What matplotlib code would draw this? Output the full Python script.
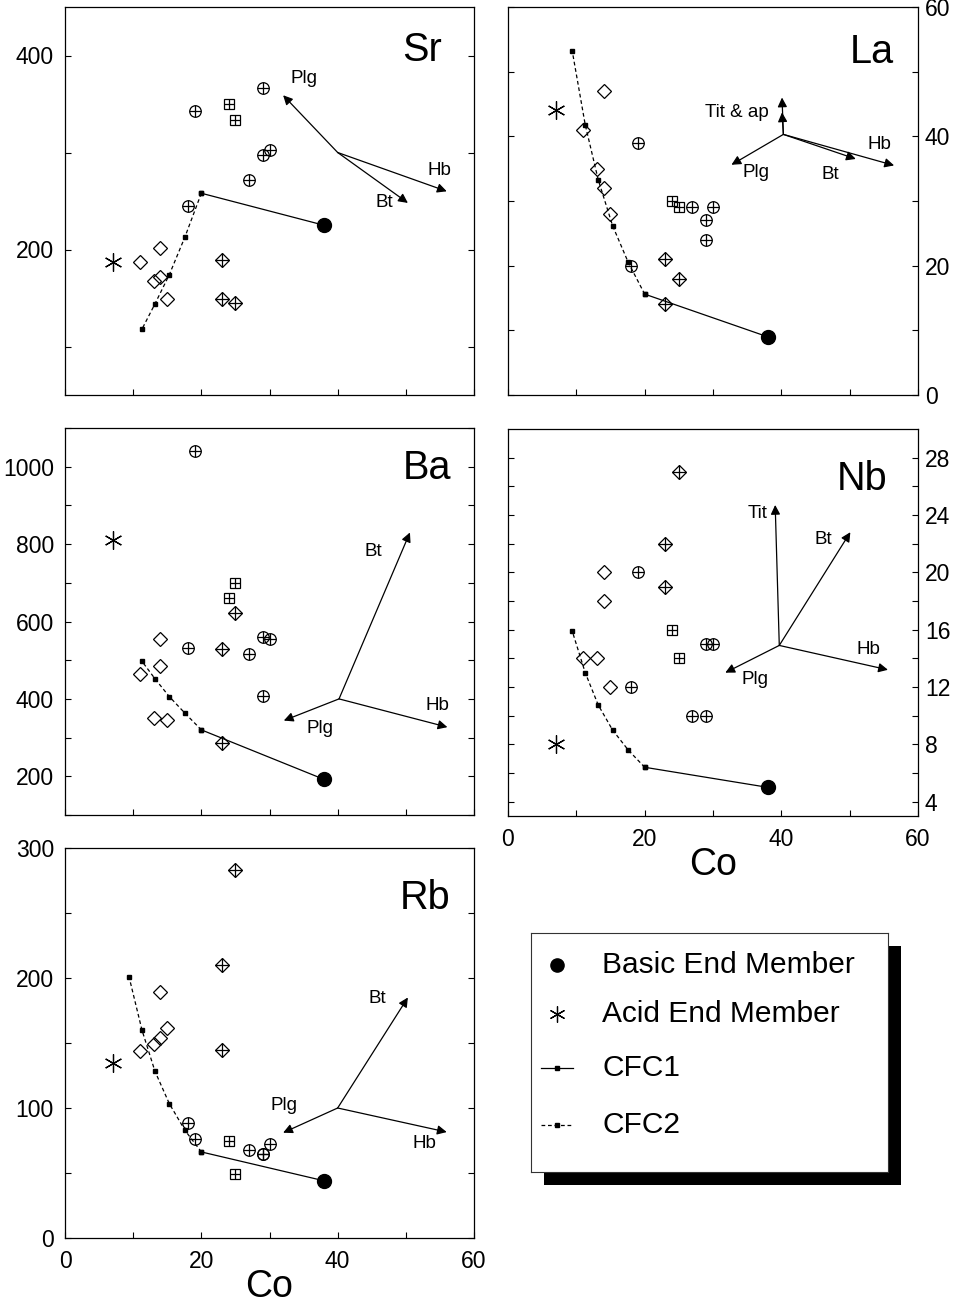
import numpy as np
import matplotlib
matplotlib.use("Agg")
import matplotlib.pyplot as plt
from matplotlib.patches import Rectangle

plt.rcParams['font.family'] = ['Liberation Sans', 'DejaVu Sans']

# Co (x) values of the sample groups
co_diamond = [11, 13, 14, 14, 15]
co_cplus = [18, 19, 27, 29, 29, 30]
co_splus = [24, 25]
co_dplus = [23, 23, 25]
co_basic = 38
co_acid = 7
co_cfc1 = [20, 38]
co_cfc2 = [20, 17.6, 15.3, 13.2, 11.3, 9.4]

# Sr
sr_diamond = [187, 168, 202, 172, 149]
sr_cplus = [245, 343, 272, 367, 297, 303]
sr_splus = [350, 333]
sr_dplus = [189, 149, 145]
sr_basic = 225
sr_acid = 187
sr_cfc1 = [258, 225]
sr_cfc2 = [258, 213, 174, 144, 118]

# La
la_diamond = [41, 35, 47, 32, 28]
la_cplus = [20, 39, 29, 27, 24, 29]
la_splus = [30, 29]
la_dplus = [21, 14, 18]
la_basic = 9
la_acid = 44
la_cfc1 = [15.6, 9]
la_cfc2 = [15.6, 20.5, 26.2, 33.3, 41.8, 53.2]

# Ba
ba_diamond = [465, 351, 555, 484, 346]
ba_cplus = [531, 1040, 516, 559, 407, 556]
ba_splus = [662, 699]
ba_dplus = [529, 286, 623]
ba_basic = 192
ba_acid = 811
ba_cfc1 = [320, 192]
ba_cfc2 = [320, 363, 406, 452, 497]

# Nb
nb_diamond = [14, 14, 20, 18, 12]
nb_cplus = [12, 20, 10, 15, 10, 15]
nb_splus = [16, 14]
nb_dplus = [22, 19, 27]
nb_basic = 5
nb_acid = 8
nb_cfc1 = [6.4, 5]
nb_cfc2 = [6.4, 7.6, 9.0, 10.75, 13.0, 15.9]

# Rb
rb_diamond = [143.6, 149.5, 189, 154, 161.5]
rb_cplus = [88.5, 76.5, 67.5, 65, 64.5, 72.6]
rb_splus = [74.4, 49]
rb_dplus = [210, 145, 283]
rb_basic = 44
rb_acid = 135
rb_cfc1 = [66.2, 44]
rb_cfc2 = [66.2, 82.8, 103.4, 128.2, 159.8, 200.8]

# mineral vectors: origin, then (label, tip, label position)
sr_vec = ((40, 300), [("Plg", (32, 359), (35, 376)), ("Hb", (56, 260), (55, 281)),
                      ("Bt", (50.3, 248), (46.8, 248))])
la_vec = ((40.3, 40.3), [("Plg", (32.7, 35.6), (36.3, 34.4)), ("Bt", (50.9, 36.5), (47.1, 34.1)),
                         ("Hb", (56.5, 35.5), (54.4, 38.8)), ("", (40.1, 43.7), None),
                         ("Tit & ap", (40.1, 46.0), (33.5, 43.7))])
ba_vec = ((40.2, 400), [("Bt", (50.6, 830), (45.3, 782)), ("Plg", (32.1, 344), (37.4, 323)),
                        ("Hb", (56.1, 327), (54.7, 383))])
nb_vec = ((39.7, 14.9), [("Tit", (39.1, 24.7), (36.5, 24.1)), ("Bt", (50.1, 22.8), (46.2, 22.3)),
                         ("Hb", (55.6, 13.2), (52.8, 14.6)), ("Plg", (31.8, 13.0), (36.2, 12.5))])
rb_vec = ((40, 100), [("Bt", (50.3, 185), (45.8, 184)), ("Plg", (32, 81), (32.2, 102)),
                      ("Hb", (56, 81.5), (52.8, 72.6))])

W, H = 957, 1302
fig = plt.figure(figsize=(W / 100, H / 100), dpi=100)


def rect(x0, x1, top, bot):
    return [x0 / W, 1 - bot / H, (x1 - x0) / W, (bot - top) / H]


panels = [
    ("Sr", rect(65, 474, 7, 395), (50, 450), np.arange(100, 401, 100), 200, "left", False,
     sr_diamond, sr_cplus, sr_splus, sr_dplus, sr_basic, sr_acid, sr_cfc1, sr_cfc2, sr_vec, (0.872, 0.889)),
    ("La", rect(508, 918, 7, 395), (0, 60), np.arange(0, 61, 10), 20, "right", False,
     la_diamond, la_cplus, la_splus, la_dplus, la_basic, la_acid, la_cfc1, la_cfc2, la_vec, (0.887, 0.885)),
    ("Ba", rect(65, 474, 428, 815), (100, 1100), np.arange(100, 1101, 100), 200, "left", False,
     ba_diamond, ba_cplus, ba_splus, ba_dplus, ba_basic, ba_acid, ba_cfc1, ba_cfc2, ba_vec, (0.884, 0.896)),
    ("Nb", rect(508, 918, 429, 816), (3, 30), np.arange(4, 29, 2), 4, "right", True,
     nb_diamond, nb_cplus, nb_splus, nb_dplus, nb_basic, nb_acid, nb_cfc1, nb_cfc2, nb_vec, (0.863, 0.870)),
    ("Rb", rect(65, 474, 848, 1238), (0, 300), np.arange(0, 301, 50), 100, "left", True,
     rb_diamond, rb_cplus, rb_splus, rb_dplus, rb_basic, rb_acid, rb_cfc1, rb_cfc2, rb_vec, (0.880, 0.871)),
]

mk = dict(linestyle="none", color="black", markerfacecolor="none", markeredgewidth=0.9)

for (name, pos, ylim, yt, ystep, side, xlab, dia, cpl, spl, dpl, basic, acid,
     cfc1, cfc2, vec, lpos) in panels:
    ax = fig.add_axes(pos)
    ax.set_xlim(0, 60)
    ax.set_ylim(*ylim)

    # mixing curves
    ax.plot(co_cfc2[:len(cfc2)], cfc2, color="black", lw=0.9, ls=(0, (3, 2.2)),
            marker="s", ms=2.8, zorder=2)
    ax.plot(co_cfc1, cfc1, color="black", lw=0.9, marker="s", ms=2.8, zorder=2)

    # samples
    ax.plot(co_diamond, dia, marker="D", ms=6.8, zorder=3, **mk)
    ax.plot(co_cplus, cpl, marker="o", ms=8.3, zorder=3, **mk)
    ax.plot(co_cplus, cpl, marker="+", ms=8.3, zorder=3, **mk)
    ax.plot(co_splus, spl, marker="s", ms=7.2, zorder=3, **mk)
    ax.plot(co_splus, spl, marker="+", ms=7.2, zorder=3, **mk)
    ax.plot(co_dplus, dpl, marker="D", ms=6.8, zorder=3, **mk)
    ax.plot(co_dplus, dpl, marker="+", ms=9.6, zorder=3, **mk)

    # end members
    ax.plot(co_basic, basic, marker="o", ms=10, color="black", ls="none", zorder=4)
    ax.plot(co_acid, acid, marker=(6, 2, 0), ms=13, color="black", mew=0.9, ls="none", zorder=4)

    # mineral vectors
    origin, arrows = vec
    for lab, tip, lp in arrows:
        ax.annotate("", xy=tip, xytext=origin,
                    arrowprops=dict(arrowstyle="-|>", color="black", lw=0.9,
                                    mutation_scale=14, shrinkA=0, shrinkB=0))
        if lp is not None:
            ax.text(lp[0], lp[1], lab, fontsize=13.5, ha="center", va="center")

    ax.text(lpos[0], lpos[1], name, transform=ax.transAxes, fontsize=28.5,
            ha="center", va="center")

    # ticks
    ax.set_xticks(np.arange(0, 61, 10))
    if xlab:
        ax.set_xticklabels([str(v) if v % 20 == 0 else "" for v in range(0, 61, 10)])
        ax.set_xlabel("Co", fontsize=27, labelpad=-3)
    else:
        ax.set_xticklabels([])
    ax.set_yticks(yt)
    ax.set_yticklabels([str(int(v)) if v % ystep == 0 else "" for v in yt])
    ax.tick_params(direction="in", length=4, width=0.8, labelsize=16.5,
                   left=True, right=True, top=False, bottom=True,
                   labelleft=(side == "left"), labelright=(side == "right"))
    ax.tick_params(axis="x", pad=8.5)
    ax.tick_params(axis="y", pad=8 if side == "left" else 5)
    for s in ax.spines.values():
        s.set_linewidth(0.9)

# legend box with drop shadow
lx0, lx1, ltop, lbot = 531, 888, 933, 1172
fig.add_artist(Rectangle(((lx0 + 13) / W, 1 - (lbot + 13) / H), (lx1 - lx0) / W, (lbot - ltop) / H,
                         transform=fig.transFigure, facecolor="black", edgecolor="none", zorder=-1))
lax = fig.add_axes(rect(lx0, lx1, ltop, lbot))
lax.set_xlim(0, lx1 - lx0)
lax.set_ylim(lbot - ltop, 0)
lax.set_xticks([])
lax.set_yticks([])
for s in lax.spines.values():
    s.set_linewidth(0.8)
    s.set_color("#333333")

leg_labels = ["Basic End Member", "Acid End Member", "CFC1", "CFC2"]
rows = [32, 81, 135, 192]
lax.plot(26, rows[0], marker="o", ms=9.5, color="black")
lax.plot(26, rows[1], marker=(6, 2, 0), ms=11.5, mew=0.9, color="black")
lax.plot([10, 42], [rows[2]] * 2, color="black", lw=0.9)
lax.plot(26, rows[2], marker="s", ms=3, color="black")
lax.plot([10, 42], [rows[3]] * 2, color="black", lw=0.9, ls=(0, (3, 2.2)))
lax.plot(26, rows[3], marker="s", ms=3, color="black")
for r, t in zip(rows, leg_labels):
    lax.text(71, r, t, fontsize=21.5, ha="left", va="center")

fig.savefig("out.png", dpi=100)
